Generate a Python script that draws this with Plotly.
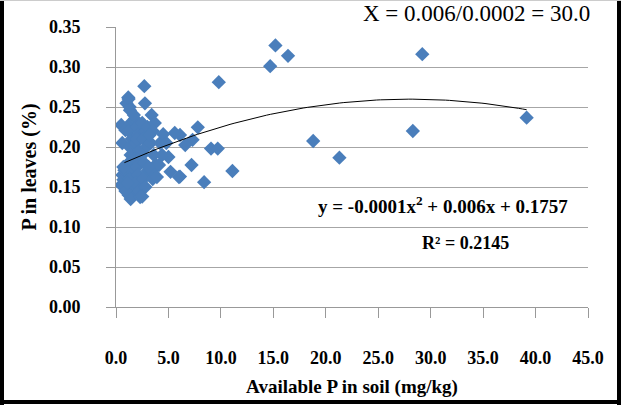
import plotly.graph_objects as go
import numpy as np

# Available P in soil (mg/kg) and P in leaves (%)
soil_p = [
    # sparse points
    15.2, 16.4, 14.7, 29.2, 9.8, 39.15, 28.3, 18.8, 21.3, 11.1, 8.4,
    7.8, 7.3, 6.6, 6.1, 9.06, 9.7, 7.2, 6.1,
    # cluster
    0.5, 0.9, 0.6, 0.7, 0.5, 0.8, 0.6,
    1.2, 1.3, 1.4, 1.2, 1.5, 1.3, 1.4, 1.2, 1.5, 1.3, 1.4, 1.2, 1.5, 1.4, 1.0, 1.17, 1.33,
    1.8, 2.0, 2.1, 1.9, 2.2, 1.8, 2.0, 2.1, 1.9, 2.2, 2.3, 1.7, 2.0,
    2.7, 2.76, 2.5, 2.8, 2.6, 2.9, 2.5, 2.7, 3.0, 2.6, 2.8, 2.5, 3.0,
    3.4, 3.7, 3.5, 3.3, 3.6, 3.8, 3.4, 3.5, 3.9,
    4.2, 4.5, 4.1, 4.8, 5.0, 5.2, 5.6, 6.0, 4.4, 3.2, 3.1,
    0.9, 1.1, 0.7,
]
leaf_p = [
    0.327, 0.314, 0.301, 0.316, 0.281, 0.2367, 0.220, 0.2075, 0.1867, 0.170, 0.156,
    0.2246, 0.209, 0.2025, 0.215, 0.198, 0.198, 0.1775, 0.163,
    0.2275, 0.221, 0.165, 0.159, 0.1525, 0.171, 0.205,
    0.26, 0.25, 0.23, 0.22, 0.21, 0.20, 0.19, 0.18, 0.17, 0.16, 0.15, 0.14, 0.139, 0.135, 0.2546, 0.262, 0.246,
    0.235, 0.225, 0.215, 0.205, 0.195, 0.185, 0.175, 0.165, 0.155, 0.145, 0.1375, 0.24, 0.21,
    0.276, 0.2546, 0.23, 0.22, 0.21, 0.20, 0.19, 0.18, 0.17, 0.16, 0.15, 0.138, 0.225,
    0.24, 0.23, 0.22, 0.205, 0.19, 0.178, 0.17, 0.16, 0.1625,
    0.205, 0.216, 0.1775, 0.205, 0.1875, 0.169, 0.2175, 0.1625, 0.19, 0.215, 0.175,
    0.145, 0.155, 0.175,
]

# Polynomial trendline coefficients (order 2) as shown on the chart
trend_c2, trend_c1, trend_c0 = -0.000107, 0.006, 0.1757
trend_x = np.linspace(min(soil_p) + 0.3, max(soil_p), 100)
trend_y = trend_c2 * trend_x**2 + trend_c1 * trend_x + trend_c0

x_ticks = [0, 5, 10, 15, 20, 25, 30, 35, 40, 45]
y_ticks = [0.0, 0.05, 0.10, 0.15, 0.20, 0.25, 0.30, 0.35]

serif = "Times New Roman"

fig = go.Figure()
fig.add_trace(go.Scatter(
    x=soil_p, y=leaf_p, mode="markers",
    marker=dict(symbol="diamond", size=11, color="#4a7ebb"),
    showlegend=False,
))
fig.add_trace(go.Scatter(
    x=trend_x, y=trend_y, mode="lines",
    line=dict(color="black", width=1),
    showlegend=False,
))

fig.update_layout(
    width=621, height=405,
    margin=dict(l=116, r=33, t=27, b=98),
    paper_bgcolor="white", plot_bgcolor="white",
    font=dict(family=serif, color="black"),
    xaxis=dict(
        range=[0, 45], tickvals=x_ticks, tickformat=".1f",
        showgrid=False, zeroline=False,
        showline=True, linecolor="#999999", linewidth=1,
        ticks="outside", ticklen=10, tickcolor="#999999",
        ticklabelstandoff=24,
        tickfont=dict(family=serif, size=18, weight="bold"),
        title=dict(text="Available P in soil (mg/kg)",
                   font=dict(family=serif, size=19, weight="bold"), standoff=13),
    ),
    yaxis=dict(
        range=[0, 0.35], tickvals=y_ticks, tickformat=".2f",
        showgrid=True, gridcolor="#a6a6a6", gridwidth=1, zeroline=False,
        showline=True, linecolor="#999999", linewidth=1,
        ticks="outside", ticklen=9, tickcolor="#999999",
        ticklabelstandoff=22,
        tickfont=dict(family=serif, size=18, weight="bold"),
        title=dict(text="P in leaves (%)",
                   font=dict(family=serif, size=20, weight="bold"), standoff=6),
    ),
    annotations=[
        dict(x=31.2, y=0.1275, xref="x", yref="y", showarrow=False,
             xanchor="center", yanchor="middle",
             text="y = -0.0001x<sup>2</sup> + 0.006x + 0.1757",
             font=dict(family=serif, size=19, weight="bold")),
        dict(x=33.3, y=0.080, xref="x", yref="y", showarrow=False,
             xanchor="center", yanchor="middle",
             text="R² = 0.2145",
             font=dict(family=serif, size=18, weight="bold")),
        dict(x=(476 - 116) / 472, y=(307 - 14) / 280, xref="paper", yref="paper",
             xanchor="center", yanchor="middle",
             showarrow=False, text="X = 0.006/0.0002 = 30.0",
             font=dict(family=serif, size=23)),
    ],
    shapes=[
        dict(type="line", xref="paper", yref="paper",
             x0=(2 - 116) / 472, x1=(2 - 116) / 472, y0=(307 - 0) / 280, y1=(307 - 405) / 280,
             line=dict(color="black", width=4)),
        dict(type="line", xref="paper", yref="paper",
             x0=(619 - 116) / 472, x1=(619 - 116) / 472, y0=(307 - 0) / 280, y1=(307 - 405) / 280,
             line=dict(color="black", width=4)),
        dict(type="line", xref="paper", yref="paper",
             x0=(0 - 116) / 472, x1=(621 - 116) / 472, y0=(307 - 402) / 280, y1=(307 - 402) / 280,
             line=dict(color="black", width=4)),
        dict(type="line", xref="paper", yref="paper",
             x0=(0 - 116) / 472, x1=(621 - 116) / 472, y0=(307 - 0.5) / 280, y1=(307 - 0.5) / 280,
             line=dict(color="#cccccc", width=1)),
    ],
)

fig.write_html("out.html")
